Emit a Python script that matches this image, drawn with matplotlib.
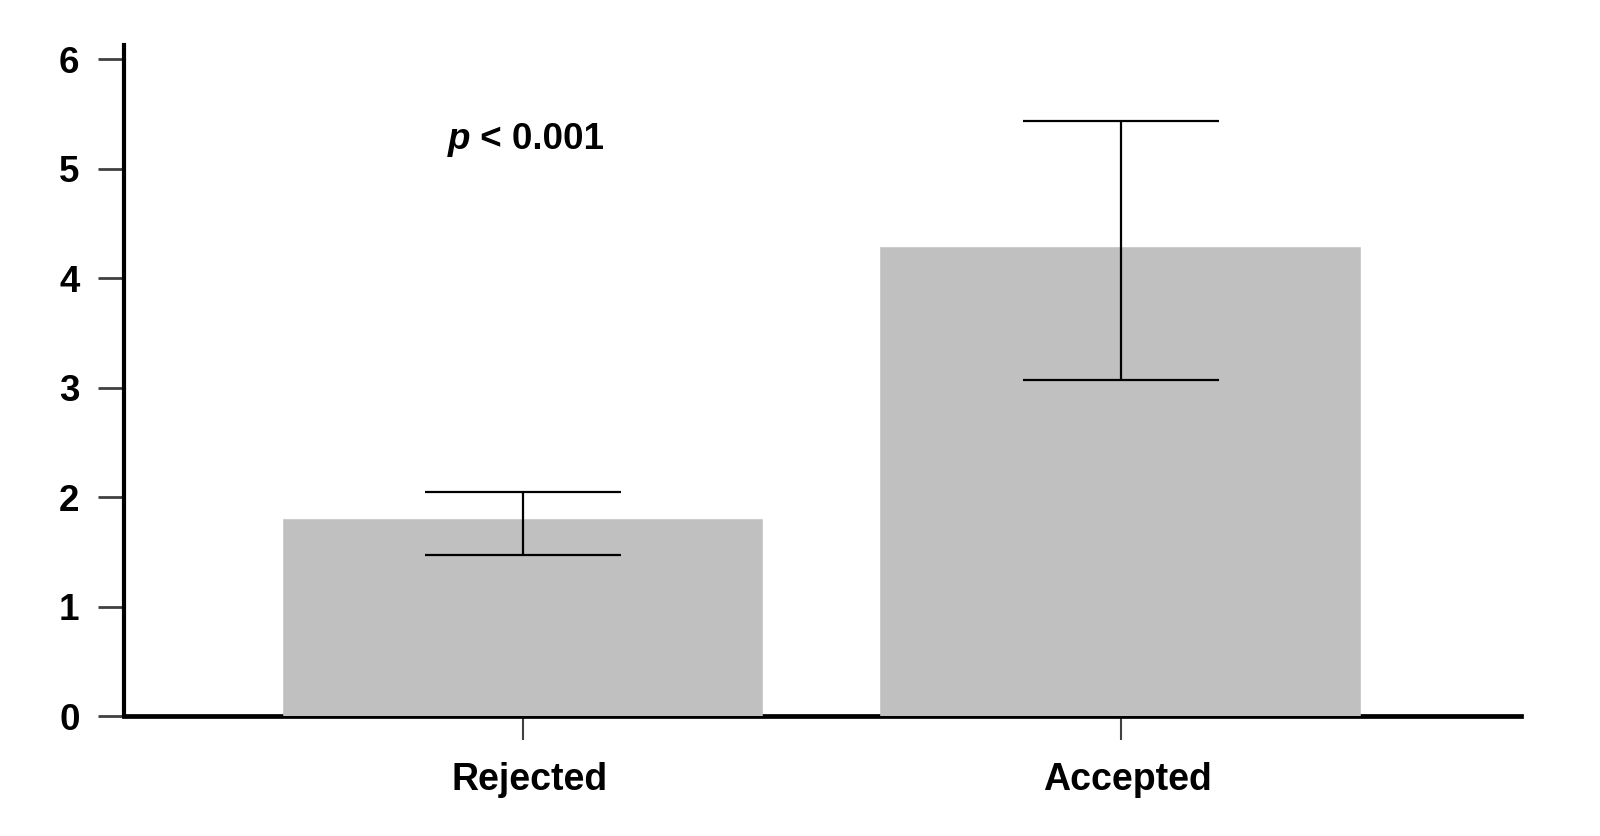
import matplotlib as mpl
import matplotlib.pyplot as plt
import matplotlib.transforms as mtransforms

mpl.rcParams['font.family'] = ['Liberation Sans', 'DejaVu Sans']
mpl.rcParams['font.weight'] = 'bold'

groups = ['Rejected', 'Accepted']
means = [1.78, 4.27]
err_low = [0.31, 1.20]
err_high = [0.27, 1.17]
y_ticks = [0, 1, 2, 3, 4, 5, 6]

fig = plt.figure(figsize=(16, 8.36), dpi=100)
ax = fig.add_axes([0.0775, 0.1435, 0.873, 0.8027])

x = range(len(groups))
# edge in the same grey so the bars cover the baseline like in the original
ax.bar(x, means, width=0.797, color='#c0c0c0', edgecolor='#c0c0c0',
       linewidth=2.6, zorder=3)
ax.errorbar(x, means, yerr=[err_low, err_high], fmt='none', ecolor='black',
            elinewidth=1.6, capsize=70.5, capthick=1.6, zorder=4)

ax.set_xlim(-0.667, 1.669)
ax.set_ylim(0, 6.13)
ax.set_yticks(y_ticks)
ax.set_xticks(list(x))
ax.set_xticklabels(groups)

for s in ['top', 'right']:
    ax.spines[s].set_visible(False)
ax.spines['left'].set_linewidth(3)
ax.spines['bottom'].set_linewidth(3.4)
ax.tick_params(axis='y', direction='out', length=19, width=2, color='#404040',
               labelsize=26.5, pad=13)
ax.tick_params(axis='x', direction='out', length=17, width=1.5, color='#404040',
               labelsize=27, pad=16)

# category labels sit a little right of their ticks in the original
shift = mtransforms.ScaledTranslation(5 / 72, 0, fig.dpi_scale_trans)
for lbl in ax.get_xticklabels():
    lbl.set_transform(lbl.get_transform() + shift)

ax.text(-0.088, 5.27, 'p', style='italic', fontweight='bold', fontsize=26.5,
        ha='right', va='center')
ax.text(-0.088, 5.27, ' < 0.001', fontweight='bold', fontsize=26.5,
        ha='left', va='center')

fig.savefig('out.png', dpi=100)
